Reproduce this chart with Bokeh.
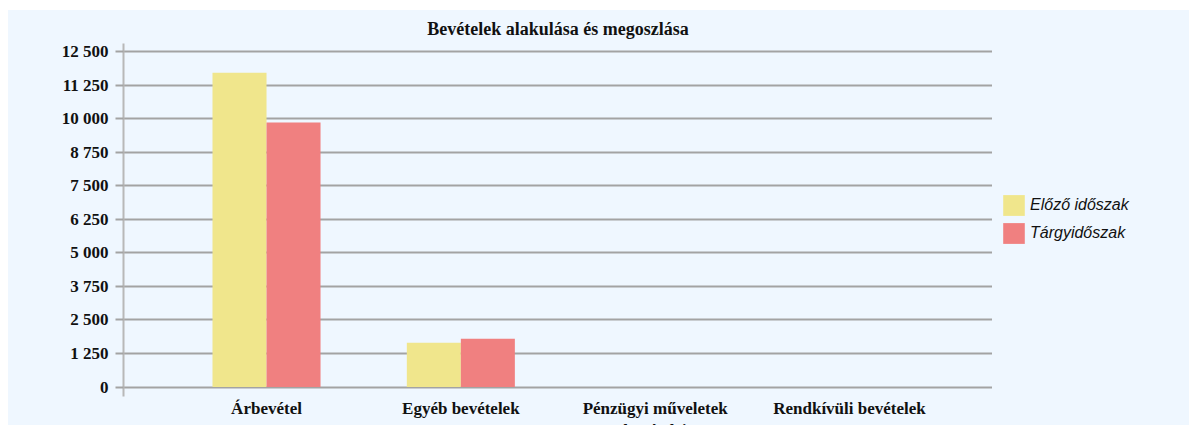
from bokeh.plotting import figure
from bokeh.layouts import row
from bokeh.models import (ColumnDataSource, FactorRange, Range1d, FixedTicker,
                          Legend, LegendItem)
from bokeh.transform import dodge
from bokeh.core.properties import value
from bokeh.embed import file_html
from bokeh.resources import INLINE

# ---- data ----
categories = ["Árbevétel", "Egyéb bevételek", "Pénzügyi műveletek bevételei", "Rendkívüli bevételek"]
category_labels = ["Árbevétel", "Egyéb bevételek", "Pénzügyi műveletek\nbevételei", "Rendkívüli bevételek"]
series_names = ["Előző időszak", "Tárgyidőszak"]
series_colors = ["#f0e68c", "#f08080"]
previous_period = [11720, 1650, 0, 0]
current_period = [9860, 1800, 0, 0]
y_ticks = [0, 1250, 2500, 3750, 5000, 6250, 7500, 8750, 10000, 11250, 12500]
y_tick_labels = ["0", "1 250", "2 500", "3 750", "5 000", "6 250", "7 500",
                 "8 750", "10 000", "11 250", "12 500"]
title_text = "Bevételek alakulása és megoszlása"

BG = "#eff7ff"
GRID = "#a3a3a3"
AXIS = "#b8b8b8"
SERIF = "Liberation Serif"

source = ColumnDataSource(dict(cat=categories, prev=previous_period, curr=current_period,
                               label=category_labels, zero=[0] * len(categories)))

# ---- main chart ----
p = figure(width=984, height=415, output_backend="svg", toolbar_location=None,
           x_range=FactorRange(factors=categories, range_padding=0.118),
           y_range=Range1d(-1435, 12809), x_axis_location=None,
           min_border_left=115, min_border_right=0, min_border_top=33, min_border_bottom=0,
           background_fill_color=BG, border_fill_color=BG, outline_line_color=None)

p.title.text = title_text
p.title.align = "center"
p.title.offset = 6
p.title.text_font = SERIF
p.title.text_font_style = "bold"
p.title.text_font_size = "18px"
p.title.text_color = "#111111"

r1 = p.vbar(x=dodge("cat", -0.139, range=p.x_range), top="prev", width=0.278, source=source,
            fill_color=series_colors[0], line_color=None)
r2 = p.vbar(x=dodge("cat", 0.139, range=p.x_range), top="curr", width=0.278, source=source,
            fill_color=series_colors[1], line_color=None)

# category labels (drawn below the zero line; the second line is cut by the page edge)
p.text(x="cat", y="zero", text="label", source=source, text_align="center",
       text_baseline="top", y_offset=12, text_font=value(SERIF), text_font_style="bold",
       text_font_size="17px", text_color="#111111", text_line_height=1.15)

yaxis = p.yaxis[0]
yaxis.ticker = FixedTicker(ticks=y_ticks)
yaxis.major_label_overrides = {t: l for t, l in zip(y_ticks, y_tick_labels)}
yaxis.bounds = (-354, 12809)
yaxis.axis_line_color = AXIS
yaxis.axis_line_width = 2
yaxis.major_tick_in = 0
yaxis.major_tick_out = 8
yaxis.major_tick_line_color = GRID
yaxis.major_tick_line_width = 2
yaxis.minor_tick_line_color = None
yaxis.major_label_standoff = 7
yaxis.major_label_text_font = SERIF
yaxis.major_label_text_font_style = "bold"
yaxis.major_label_text_font_size = "17px"
yaxis.major_label_text_color = "#111111"

p.xgrid.grid_line_color = None
p.ygrid.ticker = FixedTicker(ticks=y_ticks)
p.ygrid.grid_line_color = GRID
p.ygrid.grid_line_width = 2

# ---- legend panel (legend keys are hidden copies of the two bar series) ----
lp = figure(width=197, height=415, output_backend="svg", toolbar_location=None,
            x_range=Range1d(0, 1), y_range=Range1d(0, 1),
            x_axis_location=None, y_axis_location=None,
            min_border=0, background_fill_color=BG, border_fill_color=BG,
            outline_line_color=None)
lp.grid.grid_line_color = None
k1 = lp.vbar(x="zero", top="prev", width=0.1, source=source,
             fill_color=series_colors[0], line_color=None, visible=False)
k2 = lp.vbar(x="zero", top="curr", width=0.1, source=source,
             fill_color=series_colors[1], line_color=None, visible=False)

legend = Legend(items=[LegendItem(label=series_names[0], renderers=[k1]),
                       LegendItem(label=series_names[1], renderers=[k2])],
                location=(8, 179), margin=0, padding=0, spacing=2,
                glyph_width=27, glyph_height=26, label_standoff=3,
                label_text_font="Liberation Sans", label_text_font_style="italic",
                label_text_font_size="16px", label_text_color="#111111",
                background_fill_alpha=0, border_line_color=None)
lp.add_layout(legend)

layout = row(p, lp)
layout.spacing = 0
layout.margin = (10, 0, 0, 8)
layout.styles = {"background-color": BG}

open("out.html", "w").write(file_html(layout, INLINE))
